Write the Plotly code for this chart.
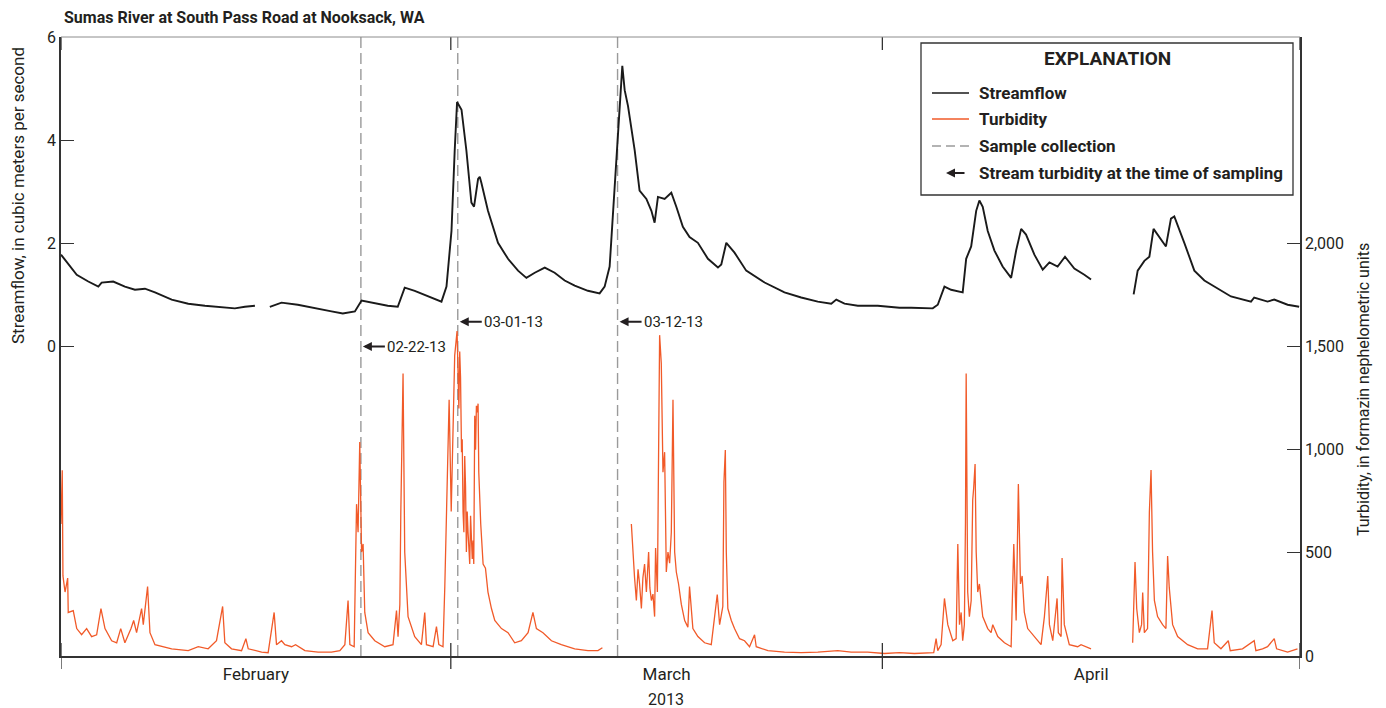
import pandas as pd
import plotly.graph_objects as go

START = pd.Timestamp("2013-02-01")

# Streamflow (m3/s), time as days since 2013-02-01; None marks missing record
flow_days = [0.00, 0.65, 1.13, 1.96, 2.68, 2.92, 3.75, 4.59, 5.31, 6.03, 6.75, 7.95, 9.14,
             10.34, 11.54, 12.49, 13.21, 13.93, 14.45, 15.00, 15.84, 17.01, 18.23, 19.43,
             20.24, 21.11, 21.59, 22.30, 23.47, 24.19, 24.69, 25.41, 26.61, 27.33, 27.69,
             28.05, 28.28, 28.45, 28.77, 29.12, 29.48, 29.67, 29.96, 30.08, 30.20, 30.67,
             31.39, 32.11, 32.83, 33.43, 34.03, 34.75, 35.46, 36.18, 36.90, 37.85, 38.69,
             39.05, 39.41, 39.77, 40.13, 40.32, 40.49, 40.73, 41.21, 41.56, 42.05, 42.41,
             42.64, 42.88, 43.36, 43.84, 44.20, 44.67, 45.15, 45.75, 46.47, 47.19, 47.43,
             47.79, 48.38, 49.22, 50.54, 51.97, 53.17, 54.36, 55.33, 55.69, 56.28, 57.24,
             58.67, 60.23, 61.07, 62.62, 62.98, 63.46, 63.94, 64.77, 65.02, 65.38, 65.74,
             65.97, 66.21, 66.57, 67.05, 67.64, 68.25, 68.61, 68.97, 69.32, 69.92, 70.52,
             71.00, 71.59, 72.12, 72.79, 73.51, 73.99, 75.50, 77.05, 77.34, 77.82, 78.18,
             78.48, 78.77, 79.37, 79.73, 79.97, 80.69, 81.41, 82.13, 83.08, 84.04, 85.48,
             85.71, 86.67, 87.15, 88.11, 88.94]
flow_cms = [1.78, 1.55, 1.39, 1.26, 1.16, 1.24, 1.26, 1.16, 1.10, 1.12, 1.05, 0.91, 0.83,
            0.79, 0.77, 0.74, 0.77, 0.79, None, 0.77, 0.85, 0.81, 0.74, 0.68,
            0.64, 0.68, 0.89, 0.85, 0.79, 0.77, 1.14, 1.08, 0.95, 0.87, 1.16,
            2.24, 3.80, 4.74, 4.59, 3.80, 2.79, 2.71, 3.25, 3.29, 3.17, 2.63,
            2.01, 1.70, 1.47, 1.33, 1.43, 1.53, 1.43, 1.28, 1.18, 1.08, 1.03,
            1.16, 1.55, 3.02, 4.59, 5.44, 4.97, 4.66, 3.80, 3.02, 2.86, 2.63,
            2.40, 2.90, 2.86, 2.98, 2.71, 2.32, 2.12, 2.01, 1.70, 1.53, 1.59,
            2.01, 1.82, 1.47, 1.24, 1.05, 0.95, 0.87, 0.83, 0.91, 0.83, 0.79,
            0.79, 0.75, 0.75, 0.74, 0.81, 1.16, 1.10, 1.05, 1.70, 1.94, 2.63,
            2.83, 2.71, 2.24, 1.86, 1.55, 1.33, 1.86, 2.28, 2.17, 1.78, 1.49,
            1.63, 1.55, 1.74, 1.51, 1.39, 1.30, None, 1.01, 1.47, 1.66, 1.74,
            2.28, 2.17, 1.94, 2.48, 2.52, 2.01, 1.47, 1.28, 1.12, 0.97, 0.87,
            0.95, 0.87, 0.91, 0.81, 0.77]

# Turbidity (FNU), time as days since 2013-02-01; None marks missing record
turb_days = [0.00, 0.09, 0.14, 0.29, 0.48, 0.52, 0.88, 1.13, 1.48, 1.84, 2.20, 2.56, 2.87,
             3.16, 3.64, 4.00, 4.29, 4.59, 5.03, 5.22, 5.43, 5.79, 5.91, 6.22, 6.39, 6.75,
             7.95, 9.14, 9.86, 10.57, 11.17, 11.41, 11.61, 11.77, 12.25, 12.97, 13.28, 13.45,
             14.41, 14.88, 15.31, 15.48, 15.84, 16.08, 16.56, 16.85, 17.52, 18.47, 19.43,
             20.03, 20.39, 20.62, 20.75, 21.06, 21.23, 21.34, 21.46, 21.59, 21.70, 21.82,
             22.06, 22.54, 23.26, 23.85, 24.10, 24.21, 24.34, 24.41, 24.57, 24.69, 24.93,
             25.41, 25.89, 26.13, 26.25, 26.73, 26.97, 27.14, 27.44, 27.57, 27.76, 27.88,
             28.03, 28.28, 28.45, 28.52, 28.58, 28.64, 28.70, 28.77, 28.82, 28.88, 28.94,
             29.00, 29.06, 29.12, 29.18, 29.24, 29.30, 29.36, 29.42, 29.48, 29.54, 29.60,
             29.65, 29.72, 29.78, 29.84, 29.90, 29.96, 30.01, 30.15, 30.32, 30.49, 30.67,
             30.92, 31.16, 31.64, 32.11, 32.59, 33.07, 33.55, 33.90, 34.15, 34.62, 35.23,
             35.94, 36.90, 37.85, 38.57, 38.89, 40.00, 40.97, 41.08, 41.20, 41.33, 41.45,
             41.56, 41.69, 41.80, 41.92, 42.05, 42.13, 42.21, 42.30, 42.41, 42.52, 42.64,
             42.71, 42.84, 43.00, 43.12, 43.24, 43.36, 43.48, 43.60, 43.72, 43.84, 43.96,
             44.08, 44.20, 44.36, 44.56, 44.80, 45.03, 45.15, 45.39, 45.75, 46.23, 46.71,
             46.95, 47.14, 47.31, 47.54, 47.62, 47.72, 47.79, 47.90, 48.15, 48.38, 48.74,
             49.10, 49.46, 49.82, 49.94, 50.78, 51.97, 53.17, 54.36, 55.80, 56.76, 57.95,
             59.15, 60.23, 61.30, 62.69, 62.86, 62.98, 63.22, 63.46, 63.70, 64.06, 64.30,
             64.42, 64.54, 64.66, 64.77, 64.89, 64.97, 65.02, 65.13, 65.25, 65.38, 65.49,
             65.56, 65.66, 65.74, 65.85, 65.97, 66.21, 66.57, 66.81, 66.93, 67.29, 67.77,
             68.25, 68.44, 68.61, 68.77, 68.92, 69.04, 69.20, 69.44, 69.92, 70.40, 70.64,
             70.88, 71.00, 71.24, 71.55, 71.64, 71.84, 71.91, 72.07, 72.43, 73.03, 73.27,
             73.99, 75.50, 76.98, 77.15, 77.27, 77.46, 77.62, 77.70, 77.82, 78.05, 78.18,
             78.30, 78.41, 78.54, 78.77, 79.13, 79.37, 79.49, 79.61, 79.85, 80.21, 80.93,
             81.65, 82.36, 82.68, 82.84, 83.32, 83.85, 83.99, 84.87, 85.71, 85.83, 86.31,
             86.67, 87.15, 87.32, 88.11, 88.82]
turb_fnu = [640, 900, 388, 310, 378, 211, 220, 133, 103, 133, 94, 103, 230,
            133, 74, 64, 133, 64, 133, 172, 113, 230, 152, 337, 113, 55,
            35, 26, 45, 35, 74, 172, 240, 64, 35, 26, 84, 35,
            19, 16, 211, 55, 74, 55, 45, 55, 26, 19, 19,
            26, 55, 269, 55, 45, 736, 600, 1037, 504, 543, 211,
            113, 74, 45, 55, 220, 94, 250, 698, 1369, 504, 191,
            94, 55, 211, 55, 45, 142, 55, 45, 337, 833, 1242,
            700, 1456, 1575, 1320, 1200, 1476, 1350, 988, 1050, 698, 600,
            969, 820, 504, 700, 600, 520, 446, 680, 600, 470, 560,
            446, 1164, 1000, 1213, 1180, 1223, 891, 640, 446, 426, 310,
            230, 172, 133, 113, 64, 74, 113, 211, 133, 113, 74,
            55, 35, 26, 26, 40, None, 640, 504, 380, 269, 420,
            349, 230, 380, 446, 310, 420, 504, 330, 269, 300, 191,
            523, 310, 1555, 1417, 891, 988, 407, 504, 450, 600, 1242,
            504, 407, 349, 250, 172, 140, 337, 133, 94, 64, 55,
            191, 298, 152, 240, 843, 998, 504, 230, 172, 133, 84,
            74, 45, 103, 45, 26, 19, 16, 19, 26, 19, 19,
            12, 16, 12, 16, 84, 26, 55, 279, 152, 74, 84,
            543, 152, 211, 74, 152, 649, 1369, 310, 191, 269, 756,
            814, 930, 504, 310, 349, 191, 133, 113, 152, 94, 64,
            45, 543, 172, 833, 349, 388, 211, 133, 94, 55, 191,
            388, 152, 74, 279, 113, 94, 475, 152, 55, 45, 55,
            35, None, 64, 455, 230, 113, 152, 308, 113, 133, 698,
            901, 504, 269, 191, 152, 133, 484, 330, 152, 94, 55,
            35, 35, 220, 64, 35, 74, 26, 35, 74, 26, 35,
            45, 84, 35, 19, 35]

# Water-quality sample collection times and their labels
sample_times = ["2013-02-22 13:00", "2013-03-01 12:00", "2013-03-12 23:30"]
sample_labels = ["02-22-13", "03-01-13", "03-12-13"]
sample_label_fnu = [1500, 1620, 1620]

month_starts = ["2013-02-01", "2013-03-01", "2013-04-01", "2013-05-01"]
month_mids = ["2013-02-15", "2013-03-16 12:00", "2013-04-16"]
month_names = ["February", "March", "April"]

flow_ticks = [0, 2, 4, 6]
turb_ticks = [0, 500, 1000, 1500, 2000]
turb_tick_text = ["0", "500", "1,000", "1,500", "2,000"]

FONT = "Roboto, Liberation Sans, Arial, sans-serif"
TXT = "#231f20"
ORANGE = "#f15a29"
DASH_GRAY = "#9a9a9a"


def to_time(days):
    return [START + pd.Timedelta(days=d) for d in days]


fig = go.Figure()
fig.add_trace(go.Scatter(x=to_time(flow_days), y=flow_cms, mode="lines",
                         line=dict(color="#1a1a1a", width=1.9), connectgaps=False,
                         name="Streamflow", yaxis="y"))
fig.add_trace(go.Scatter(x=to_time(turb_days), y=turb_fnu, mode="lines",
                         line=dict(color=ORANGE, width=1.3), connectgaps=False,
                         name="Turbidity", yaxis="y2"))

shapes = []
# sample collection lines
for t in sample_times:
    shapes.append(dict(type="line", xref="x", yref="paper", x0=t, x1=t, y0=0, y1=1,
                       line=dict(color=DASH_GRAY, width=1.4, dash="11px,5px"), layer="below"))
# month boundary ticks (crossing bottom axis, inward at top)
tk = 13 / 619
for t in month_starts:
    shapes.append(dict(type="line", xref="x", yref="paper", x0=t, x1=t, y0=-tk, y1=tk,
                       line=dict(color="#333333", width=1.3)))
    shapes.append(dict(type="line", xref="x", yref="paper", x0=t, x1=t, y0=1 - tk, y1=1,
                       line=dict(color="#333333", width=1.3)))
# top frame
shapes.append(dict(type="line", xref="paper", yref="paper", x0=0, x1=1, y0=1, y1=1,
                   line=dict(color="#8c8c8c", width=1)))


def px_x(px):
    return (px - 61) / 1239


def px_y(py):
    return (656 - py) / 619


# explanation box
shapes.append(dict(type="rect", xref="paper", yref="paper",
                   x0=px_x(921), x1=px_x(1293), y0=px_y(195), y1=px_y(43),
                   line=dict(color="#333333", width=1.3), fillcolor="white", layer="above"))
rows = [93, 119, 146, 173]
shapes.append(dict(type="line", xref="paper", yref="paper", x0=px_x(932), x1=px_x(969),
                   y0=px_y(rows[0]), y1=px_y(rows[0]), line=dict(color="#1a1a1a", width=1.3)))
shapes.append(dict(type="line", xref="paper", yref="paper", x0=px_x(932), x1=px_x(969),
                   y0=px_y(rows[1]), y1=px_y(rows[1]), line=dict(color=ORANGE, width=1.3)))
shapes.append(dict(type="line", xref="paper", yref="paper", x0=px_x(932), x1=px_x(969),
                   y0=px_y(rows[2]), y1=px_y(rows[2]),
                   line=dict(color=DASH_GRAY, width=1.3, dash="9px,5px")))

annotations = []
annotations.append(dict(xref="paper", yref="paper", x=px_x(1107), y=px_y(59),
                        xanchor="center", yanchor="middle",
                        text="<b>EXPLANATION</b>", showarrow=False,
                        font=dict(family=FONT, size=19, color=TXT)))
legend_texts = ["Streamflow", "Turbidity", "Sample collection",
                "Stream turbidity at the time of sampling"]
for r, s in zip(rows, legend_texts):
    annotations.append(dict(xref="paper", yref="paper", x=px_x(977), y=px_y(r),
                            xanchor="left", yanchor="middle", text=f"<b>{s}</b>",
                            showarrow=False, font=dict(family=FONT, size=17, color=TXT)))
annotations.append(dict(xref="paper", yref="paper", x=px_x(946), y=px_y(rows[3]),
                        ax=20, ay=0, text="", showarrow=True, arrowhead=2, arrowsize=1,
                        arrowwidth=1.8, arrowcolor=TXT))

# sample labels with arrows
for t, lab, v in zip(sample_times, sample_labels, sample_label_fnu):
    annotations.append(dict(xref="x", yref="y2", x=t, y=v, ax=24, ay=0, text=lab,
                            xanchor="left", yanchor="middle", showarrow=True, arrowhead=2,
                            arrowsize=1, arrowwidth=1.8, arrowcolor=TXT, standoff=2,
                            font=dict(family=FONT, size=15, color=TXT)))

# titles
annotations.append(dict(xref="paper", yref="paper", x=px_x(62), y=px_y(17), xanchor="left",
                        yanchor="middle",
                        text="<b>Sumas River at South Pass Road at Nooksack, WA</b>",
                        showarrow=False, font=dict(family=FONT, size=16, color=TXT)))
annotations.append(dict(xref="paper", yref="paper", x=px_x(18), y=px_y(196),
                        xanchor="center", yanchor="middle",
                        text="Streamflow, in cubic meters per second", textangle=-90,
                        showarrow=False, font=dict(family=FONT, size=17, color=TXT)))
annotations.append(dict(xref="paper", yref="paper", x=px_x(1363), y=px_y(390),
                        xanchor="center", yanchor="middle",
                        text="Turbidity, in formazin nephelometric units", textangle=-90,
                        showarrow=False, font=dict(family=FONT, size=16, color=TXT)))
annotations.append(dict(xref="paper", yref="paper", x=px_x(666), y=px_y(699),
                        xanchor="center", yanchor="middle",
                        text="2013", showarrow=False, font=dict(family=FONT, size=16, color=TXT)))

fig.update_layout(
    width=1386, height=708,
    margin=dict(l=61, r=86, t=37, b=52),
    paper_bgcolor="white", plot_bgcolor="white",
    showlegend=False,
    font=dict(family=FONT, size=16, color=TXT),
    xaxis=dict(type="date", range=[month_starts[0], month_starts[-1]],
               tickvals=month_mids, ticktext=month_names, ticks="", ticklen=0,
               ticklabelstandoff=2,
               showline=True, linecolor="#333333", linewidth=1.5, showgrid=False,
               zeroline=False, tickfont=dict(family=FONT, size=17, color=TXT)),
    yaxis=dict(range=[-6, 6], tickvals=flow_ticks, ticks="inside", ticklen=13,
               tickcolor="#333333", tickwidth=1.3, showline=True, linecolor="#333333",
               linewidth=1.5, showgrid=False, zeroline=False,
               tickfont=dict(family=FONT, size=16, color=TXT)),
    yaxis2=dict(range=[0, 3000], tickvals=turb_ticks, ticktext=turb_tick_text,
                overlaying="y", side="right", ticks="inside", ticklen=13,
                tickcolor="#333333", tickwidth=1.3, showline=True, linecolor="#333333",
                linewidth=1.5, showgrid=False, zeroline=False,
                tickfont=dict(family=FONT, size=16, color=TXT)),
    shapes=shapes,
    annotations=annotations,
)

fig.write_html("out.html")
